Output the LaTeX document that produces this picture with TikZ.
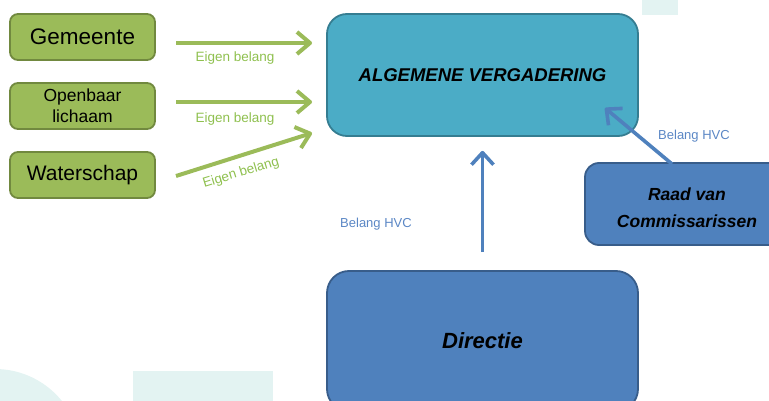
\documentclass[tikz,border=0pt]{standalone}
\usepackage{fontspec}
\setmainfont{Liberation Sans}
\usetikzlibrary{arrows.meta}
\definecolor{grfill}{HTML}{9BBB59}
\definecolor{grline}{HTML}{71893F}
\definecolor{avfill}{HTML}{4BACC6}
\definecolor{avline}{HTML}{357D91}
\definecolor{blfill}{HTML}{4F81BD}
\definecolor{blline}{HTML}{385D8A}
\definecolor{bgdeco}{HTML}{E3F3F2}
\definecolor{lblgreen}{HTML}{8FC04F}
\definecolor{lblblue}{HTML}{5B87C5}
\tikzset{
  greenbox/.style={draw=grline, fill=grfill, line width=1.8pt, rounded corners=8pt,
    minimum width=145pt, minimum height=46pt, inner sep=0pt, align=center, text=black},
  avbox/.style={draw=avline, fill=avfill, line width=1.8pt, rounded corners=20pt,
    minimum width=311pt, minimum height=122pt, inner sep=0pt, align=center, text=black},
  bluebox/.style={draw=blline, fill=blfill, line width=1.8pt, rounded corners=14pt,
    inner sep=0pt, align=center, text=black},
  greenarrow/.style={draw=grfill, line width=4pt, line join=round,
    -{Straight Barb[length=13pt,width=22pt,line join=round]}},
  bluearrow/.style={draw=blfill, line width=3.6pt, line join=round,
    -{Straight Barb[length=12pt,width=22pt,line join=round]}},
  greenlabel/.style={text=lblgreen, font=\fontsize{13.5}{15}\selectfont, inner sep=0pt},
  bluelabel/.style={text=lblblue, font=\fontsize{13}{15}\selectfont, inner sep=0pt},
}
\begin{document}
\begin{tikzpicture}[x=1pt,y=-1pt]
\useasboundingbox (0,0) rectangle (769,401);
\clip (0,0) rectangle (769,401);
% decorative background shapes
\fill[bgdeco] (642,0) rectangle (678,15);
\fill[bgdeco] (133,371) rectangle (273,401);
\fill[bgdeco] (-5,455) circle (86);

% left boxes
\node[greenbox, font=\fontsize{22.5}{26}\selectfont] (gem) at (82.5,37) {Gemeente};
\node[greenbox, font=\fontsize{17.5}{21}\selectfont] (opl) at (82.5,106) {Openbaar\\lichaam};
\node[greenbox, font=\fontsize{21}{25}\selectfont] (wat) at (82.5,175) {Waterschap};

% main boxes
\node[avbox, font=\fontsize{18.5}{22}\selectfont\bfseries\itshape] (av) at (482.5,75) {ALGEMENE VERGADERING};
\node[bluebox, minimum width=204pt, minimum height=82pt] (rvc) at (687,204) {};
\node[font=\fontsize{17.5}{27}\selectfont\bfseries\itshape, align=center, inner sep=0pt,
      yshift=-4pt] (rvctext) at (rvc.center) {Raad van\\Commissarissen};
\node[bluebox, rounded corners=22pt, minimum width=311pt, minimum height=140pt,
      font=\fontsize{22}{26}\selectfont\bfseries\itshape] (dir) at (482.5,341) {Directie};

% arrow end points
\coordinate (g1s) at (176,43);  \coordinate (g1e) at (312,43);
\coordinate (g2s) at (176,102); \coordinate (g2e) at (312,102);
\coordinate (g3s) at (176,176); \coordinate (g3e) at (312,133);
\coordinate (rs) at (672,164);  \coordinate (re) at (605,108);

\draw[greenarrow] (g1s) -- (g1e);
\draw[greenarrow] (g2s) -- (g2e);
\draw[greenarrow] (g3s) -- (g3e);
\draw[bluearrow] (rs) -- (re);
\draw[bluearrow, shorten <=18pt, shorten >=14pt] (dir.north) -- (av.south);

% labels
\node[greenlabel] (l1) at (235,58) {Eigen belang};
\node[greenlabel] (l2) at (235,119) {Eigen belang};
\node[greenlabel, rotate=17] (l3) at (241,173) {Eigen belang};
\node[bluelabel] (l4) at (694,136) {Belang HVC};
\node[bluelabel] (l5) at (376,224) {Belang HVC};
\end{tikzpicture}
\end{document}
